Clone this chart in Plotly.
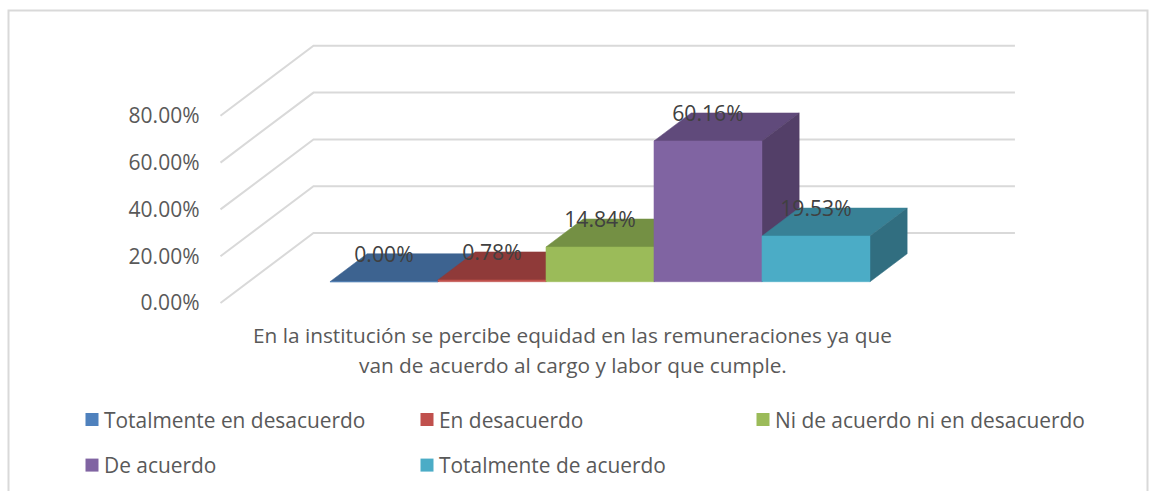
import plotly.graph_objects as go

categories = ["Totalmente en desacuerdo", "En desacuerdo", "Ni de acuerdo ni en desacuerdo",
              "De acuerdo", "Totalmente de acuerdo"]
values = [0.00, 0.78, 14.84, 60.16, 19.53]
tick_values = [0, 20, 40, 60, 80]
tick_labels = ["0.00%", "20.00%", "40.00%", "60.00%", "80.00%"]
title_lines = ["En la institución se percibe equidad en las remuneraciones ya que",
               "van de acuerdo al cargo y labor que cumple."]
front_colors = ["#4f81bd", "#c0504d", "#9bbb59", "#8064a2", "#4bacc6"]
top_colors = ["#3d6390", "#8f3a39", "#749044", "#604a7b", "#388196"]
side_colors = ["#335479", "#7a3130", "#5f7638", "#533f68", "#316e80"]
legend_slots = ["legend", "legend", "legend3", "legend2", "legend2"]

W, H = 1149, 491
FONT = "Open Sans"
CAT_PX, PCT_PX = 108.0, 2.34      # pixels per category / per percentage point
ORIGIN_X, ORIGIN_Y = 301.7, 303.0  # pixel of category 0, value 0 at the front of the floor
DX, DY = 93 / CAT_PX, 70 / PCT_PX  # oblique shift of the whole depth of the box
BAR_D0, BAR_D1 = 0.304, 0.704      # depth span of the columns
WALL_L, WALL_R = -0.752, 5.743
GRID = "#d9d9d9"


def proj(x, v, d):
    return x + d * DX, v + d * DY


def poly(points, color):
    xs, ys = zip(*[proj(*p) for p in points + points[:1]])
    return go.Scatter(x=xs, y=ys, mode="lines", fill="toself", fillcolor=color,
                      line=dict(color=color, width=0.5), hoverinfo="skip", showlegend=False)


fig = go.Figure()

for t in tick_values:
    xs, ys = zip(proj(WALL_L, t, 0), proj(WALL_L, t, 1), proj(WALL_R, t, 1))
    fig.add_trace(go.Scatter(x=xs, y=ys, mode="lines", line=dict(color=GRID, width=2),
                             hoverinfo="skip", showlegend=False))

for i, v in enumerate(values):
    fig.add_trace(poly([(i, v, BAR_D0), (i + 1, v, BAR_D0), (i + 1, v, BAR_D1), (i, v, BAR_D1)], top_colors[i]))
    fig.add_trace(poly([(i + 1, 0, BAR_D0), (i + 1, v, BAR_D0), (i + 1, v, BAR_D1), (i + 1, 0, BAR_D1)], side_colors[i]))
    fig.add_trace(poly([(i, 0, BAR_D0), (i + 1, 0, BAR_D0), (i + 1, v, BAR_D0), (i, v, BAR_D0)], front_colors[i]))

lx, ly = zip(*[proj(i + 0.5, v, BAR_D0) for i, v in enumerate(values)])
fig.add_trace(go.Scatter(x=lx, y=[y + 25.5 / PCT_PX for y in ly], mode="text",
                         text=[f"{v:.2f}%" for v in values],
                         textfont=dict(family=FONT, size=21.2, color="#404040"),
                         hoverinfo="skip", showlegend=False))

for i, name in enumerate(categories):
    fig.add_trace(go.Scatter(x=[None], y=[None], mode="markers", name=name,
                             marker=dict(symbol="square", size=13, color=front_colors[i],
                                         angle=90, standoff=8),
                             legend=legend_slots[i]))

legend_common = dict(orientation="h", indentation=-8, entrywidthmode="pixels",
                     font=dict(family=FONT, size=20.9, color="#595959"), itemclick=False,
                     itemdoubleclick=False, bgcolor="rgba(0,0,0,0)", borderwidth=0,
                     xanchor="left", yanchor="middle")

annotations = [dict(text=line, xref="paper", yref="paper", x=572.5 / W, y=1 - py / H,
                    showarrow=False, xanchor="center", yanchor="middle",
                    font=dict(family=FONT, size=20.8, color="#595959"))
               for line, py in zip(title_lines, [335, 365])]

fig.update_layout(
    height=H, autosize=True, margin=dict(l=0, r=0, t=0, b=0),
    paper_bgcolor="white", plot_bgcolor="white", showlegend=True,
    xaxis=dict(range=[-ORIGIN_X / CAT_PX, (W - ORIGIN_X) / CAT_PX], visible=False, fixedrange=True),
    yaxis=dict(range=[(ORIGIN_Y - H) / PCT_PX, ORIGIN_Y / PCT_PX], anchor="free", position=199.5 / W,
               tickmode="array", tickvals=tick_values, ticktext=tick_labels, showgrid=False, zeroline=False,
               showline=False, ticks="", tickfont=dict(family=FONT, size=21, color="#595959"),
               fixedrange=True, automargin=False),
    legend=dict(x=72 / W, y=1 - 420 / H, entrywidth=298, **legend_common),
    legend3=dict(x=743 / W, y=1 - 420 / H, entrywidth=330, **legend_common),
    legend2=dict(x=72 / W, y=1 - 465.5 / H, entrywidth=298, **legend_common),
    annotations=annotations,
    shapes=[dict(type="path", xref="paper", yref="paper", layer="below",
                 path=f"M {8.5 / W} 0 L {8.5 / W} {1 - 10.5 / H} L {1147.5 / W} {1 - 10.5 / H} L {1147.5 / W} 0",
                 line=dict(color=GRID, width=2))],
)

fig.write_html("out.html", config=dict(displayModeBar=False, responsive=True),
               default_width="100vw", default_height=f"{H}px",
               post_script="document.body.style.margin='0';document.documentElement.style.overflow='hidden';window.dispatchEvent(new Event('resize'));")
